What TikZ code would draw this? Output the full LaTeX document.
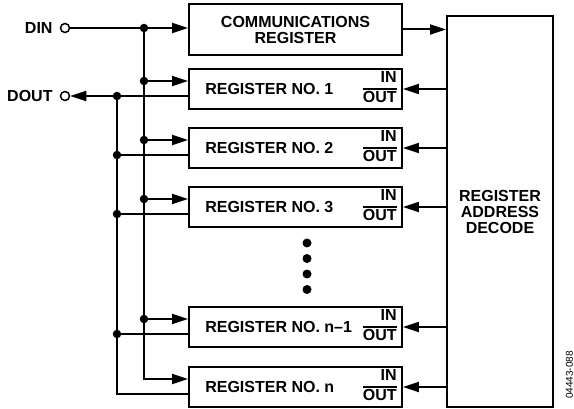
\documentclass[tikz,border=0pt]{standalone}
\usepackage{fontspec}
\setmainfont{Liberation Sans}
\usetikzlibrary{positioning, arrows.meta, calc}

% IN over OUT, with the bar between them
\newcommand{\inout}{{\setlength{\arrayrulewidth}{1.6pt}\renewcommand{\arraystretch}{0.8}%
  \begin{tabular}{@{}r@{}}IN\\[2pt]\hline\rule{0pt}{13pt}OUT\end{tabular}}}

\begin{document}
\begin{tikzpicture}[x=1pt, y=-1pt,
            % --- Styles for the nodes ---
            font=\fontsize{16}{16}\selectfont\bfseries,
            wire/.style={line width=2pt},
            sig/.style={wire, -{Triangle[length=16pt, width=10pt]}},
            regbox/.style={draw, line width=1.8pt, minimum width=213pt, minimum height=40pt, inner sep=0pt},
            reglabel/.style={inner sep=0pt},
            terminal/.style={draw, circle, line width=1.5pt, fill=white, minimum size=9pt, inner sep=0pt},
            junction/.style={circle, fill, minimum size=8.5pt, inner sep=0pt},
            bigdot/.style={circle, fill, minimum size=9pt, inner sep=0pt}
        ]
        \useasboundingbox (0,0) rectangle (574,409);

        % --- Registers ---
        \node[regbox, minimum height=51pt, align=center] (comm) at (295.5,29.5) {COMMUNICATIONS\\REGISTER};
        \foreach \name/\y/\num in {r1/89/1, r2/148/2, r3/207/3, rm/327/n--1, rn/387/n} {
            \node[regbox] (\name) at (295.5,\y) {};
            \node[reglabel, right=17pt of \name.west] {REGISTER NO. \num};
            \node[reglabel, left=6pt of \name.east] {\inout};
            \coordinate (\name-in) at ($(\name.west)+(0,-8)$);
            \coordinate (\name-out) at ($(\name.west)+(0,7)$);
        }
        \node[regbox, minimum width=106pt, minimum height=391pt, align=center] (dec) at (500,211.5) {REGISTER\\ADDRESS\\DECODE};

        % --- Pins ---
        \node[terminal] (din) at (65,28) {};
        \node[reglabel, left=7pt of din] {DIN};
        \node[terminal] (dout) at (65,96) {};
        \node[reglabel, left=7pt of dout] {DOUT};

        % --- Buses ---
        \coordinate (bin) at (144,0);
        \coordinate (bout) at (117,0);
        \draw[sig] (din) -- (din -| comm.west);
        \draw[sig] (bin |- din) |- (rn-in);
        \draw[sig] (r1-out) -- (dout);
        \draw[wire] (bout |- r1-out) |- (rn-out);
        \node[junction] at (bin |- din) {};
        \foreach \name in {r1, r2, r3, rm} {
            \draw[sig] (bin |- \name-in) -- (\name-in);
            \draw[wire] (\name-out) -- (bout |- \name-out);
            \node[junction] at (bin |- \name-in) {};
            \node[junction] at (bout |- \name-out) {};
        }

        % --- Decode to registers ---
        \draw[sig] (comm.east) -- (comm.east -| dec.west);
        \foreach \name in {r1, r2, r3, rm, rn}
            \draw[sig] (dec.west |- \name.east) -- (\name.east);

        % --- More registers ---
        \foreach \y in {243, 258.5, 274, 289.5}
            \node[bigdot] at (307,\y) {};

        \node[rotate=90, font=\fontsize{10}{12}\selectfont] at (569.5,375) {04443-088};
\end{tikzpicture}
\end{document}
